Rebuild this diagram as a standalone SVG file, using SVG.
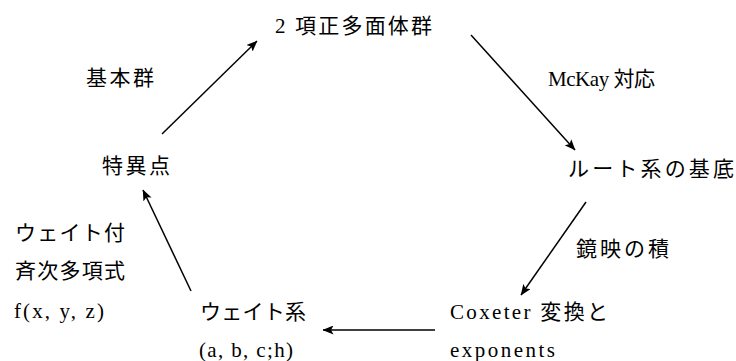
<svg xmlns="http://www.w3.org/2000/svg" width="736" height="361" viewBox="0 0 736 361">
<style>
text{font-family:'Liberation Serif','Noto Sans CJK JP',serif;font-size:21px;fill:#000}
.c{stroke:#000;stroke-width:1.5;fill:none}
</style>
<defs>
<marker id="ah" viewBox="0 0 11 9" refX="10.5" refY="4.5" markerWidth="11" markerHeight="9" markerUnits="userSpaceOnUse" orient="auto">
<path d="M0,0 L11,4.5 L0,9 L2.5,4.5 z" fill="#000"/>
</marker>
</defs>
<rect width="736" height="361" fill="#fff"/>
<g id="connectors">
<line class="c" x1="162" y1="134" x2="257" y2="41" marker-end="url(#ah)"/>
<line class="c" x1="471" y1="35" x2="575" y2="150" marker-end="url(#ah)"/>
<line class="c" x1="586" y1="202" x2="521" y2="295" marker-end="url(#ah)"/>
<line class="c" x1="435" y1="330" x2="323" y2="330" marker-end="url(#ah)"/>
<line class="c" x1="191" y1="291" x2="143" y2="190" marker-end="url(#ah)"/>
</g>
<g id="labels">
<text x="86" y="85" textLength="68" lengthAdjust="spacing">基本群</text>
<text x="548" y="86" textLength="107" lengthAdjust="spacing">McKay 対応</text>
<text x="576" y="256" textLength="93" lengthAdjust="spacing">鏡映の積</text>
</g>
<g id="n-polyhedral"><text x="275" y="33" textLength="157" lengthAdjust="spacing">2 項正多面体群</text></g>
<g id="n-root"><text x="568" y="176" textLength="166" lengthAdjust="spacing">ルート系の基底</text></g>
<g id="n-coxeter"><text x="450" y="319" textLength="158" lengthAdjust="spacing">Coxeter 変換と</text><text x="450" y="357" textLength="105" lengthAdjust="spacing">exponents</text></g>
<g id="n-weight"><text x="200" y="319" textLength="106" lengthAdjust="spacing">ウェイト系</text><text x="199" y="357" textLength="94" lengthAdjust="spacing">(a, b, c;h)</text></g>
<g id="n-singular"><text x="102" y="173" textLength="68" lengthAdjust="spacing">特異点</text></g>
<g id="n-poly"><text x="15" y="240" textLength="110" lengthAdjust="spacing">ウェイト付</text><text x="15" y="278" textLength="110" lengthAdjust="spacing">斉次多項式</text><text x="14" y="318" textLength="90" lengthAdjust="spacing">f(x, y, z)</text></g>
</svg>
